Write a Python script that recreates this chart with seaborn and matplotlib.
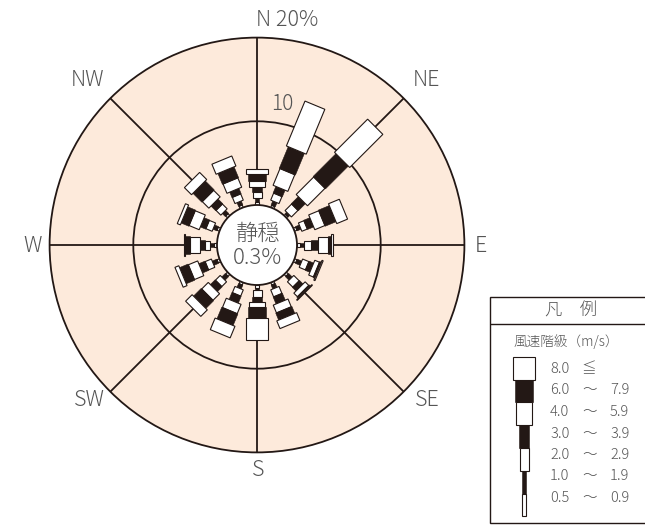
import numpy as np
import matplotlib
matplotlib.use("Agg")
import matplotlib.pyplot as plt
from matplotlib.patches import Circle, Polygon, Rectangle
import seaborn as sns

sns.set_theme(style="white")
plt.rcParams["font.family"] = ["Noto Sans CJK JP", "DejaVu Sans"]
plt.rcParams["font.weight"] = "light"

# ---- data -------------------------------------------------------------
directions = ["N", "NNE", "NE", "ENE", "E", "ESE", "SE", "SSE",
              "S", "SSW", "SW", "WSW", "W", "WNW", "NW", "NNW"]
speed_classes = ["0.5 ～ 0.9", "1.0 ～ 1.9", "2.0 ～ 2.9", "3.0 ～ 3.9",
                 "4.0 ～ 5.9", "6.0 ～ 7.9", "8.0 ≦"]
# frequency (%) per direction, one value per speed class (slow -> fast)
freq_N   = [0.3, 0.5, 0.7, 0.6, 0.8, 0.8, 0.6]
freq_NNE = [0.26, 0.54, 0.9, 0.85, 2.15, 2.8, 5.8]
freq_NE  = [0.2, 0.3, 1.1, 1.2, 2.95, 3.85, 5.6]
freq_ENE = [0.3, 0.5, 0.7, 0.8, 1.3, 1.4, 1.4]
freq_E   = [0.3, 0.5, 0.9, 0.8, 1.2, 0.4, 0.2]
freq_ESE = [0.3, 0.6, 0.8, 0.6, 0.6, 0.2, 0.15]
freq_SE  = [0.3, 0.6, 0.9, 0.6, 0.6, 0.2, 0.1]
freq_SSE = [0.3, 0.5, 0.9, 0.9, 1.0, 0.9, 1.0]
freq_S   = [0.3, 0.3, 0.8, 0.6, 0.6, 1.4, 2.6]
freq_SSW = [0.3, 0.5, 0.8, 0.9, 1.2, 1.5, 1.5]
freq_SW  = [0.3, 0.6, 0.8, 0.8, 1.1, 1.3, 1.1]
freq_WSW = [0.3, 0.6, 0.8, 0.8, 1.2, 1.1, 0.5]
freq_W   = [0.3, 0.5, 0.6, 0.6, 1.2, 0.6, 0.15]
freq_WNW = [0.3, 0.5, 0.8, 0.7, 1.3, 1.0, 0.4]
freq_NW  = [0.3, 0.5, 0.8, 0.8, 1.1, 1.5, 1.2]
freq_NNW = [0.3, 0.5, 0.8, 0.7, 1.2, 1.4, 1.3]
calm_pct = 0.3
ring_levels = [10, 20]
compass_labels = ["N 20%", "NE", "E", "SE", "S", "SW", "W", "NW"]

freq = np.array([freq_N, freq_NNE, freq_NE, freq_ENE, freq_E, freq_ESE,
                 freq_SE, freq_SSE, freq_S, freq_SSW, freq_SW, freq_WSW,
                 freq_W, freq_WNW, freq_NW, freq_NNW])

# ---- styling ----------------------------------------------------------
W_PX, H_PX, DPI = 645, 529, 100
PX_PER_PCT = 8.37          # radial scale
CALM_R = 40 / PX_PER_PCT   # calm circle radius in percent units
CX, CY = 257, 245          # rose centre in pixels
INK = "#231815"
TXT = "#555555"
FILL = "#fdeadb"
# bar width (pixels) of each speed class, slow -> fast
class_width_px = [3.3, 4.6, 9.0, 10.0, 16.0, 17.5, 21.5]
class_black = [False, True, False, True, False, True, False]

fig = plt.figure(figsize=(W_PX / DPI, H_PX / DPI), dpi=DPI)
ax = fig.add_axes([0, 0, 1, 1])
ax.set_xlim(-CX / PX_PER_PCT, (W_PX - CX) / PX_PER_PCT)
ax.set_ylim(-(H_PX - CY) / PX_PER_PCT, CY / PX_PER_PCT)
ax.set_aspect("equal")
ax.axis("off")

r_outer = CALM_R + ring_levels[-1]
ax.add_patch(Circle((0, 0), r_outer, facecolor=FILL, edgecolor=INK,
                    lw=1.3, zorder=1))
ax.add_patch(Circle((0, 0), CALM_R + ring_levels[0], facecolor="none",
                    edgecolor=INK, lw=1.3, zorder=2))
for k in range(8):
    th = np.deg2rad(45 * k)
    ax.plot([0, r_outer * np.sin(th)], [0, r_outer * np.cos(th)],
            color=INK, lw=1.3, zorder=2, solid_capstyle="butt")

# stacked wind bars
for i, d in enumerate(directions):
    th = np.deg2rad(22.5 * i)
    u = np.array([np.sin(th), np.cos(th)])
    p = np.array([np.cos(th), -np.sin(th)])
    edges = CALM_R + np.concatenate([[0], np.cumsum(freq[i])])
    for j in range(len(speed_classes)):
        a, b = edges[j], edges[j + 1]
        hw = class_width_px[j] / PX_PER_PCT / 2
        pts = [a * u - hw * p, b * u - hw * p, b * u + hw * p, a * u + hw * p]
        if class_black[j]:
            poly = Polygon(pts, closed=True, facecolor=INK, edgecolor=INK,
                           lw=0.4, zorder=4)
        else:
            poly = Polygon(pts, closed=True, facecolor="white",
                           edgecolor=INK, lw=0.8, zorder=4)
        ax.add_patch(poly)

# calm circle
ax.add_patch(Circle((0, 0), CALM_R, facecolor="white", edgecolor=INK,
                    lw=1.3, zorder=5))
ax.text(0.15, 1.3, "静穏", ha="center", va="center", fontsize=16,
        color=TXT, zorder=6)
ax.text(0.0, -1.6, f"{calm_pct}%", ha="center", va="center",
        fontsize=16, color=TXT, zorder=6)

# ring value and compass labels
ax.text(3.0, (CY - 104) / PX_PER_PCT, str(ring_levels[0]), ha="center",
        va="center", fontsize=15, color=TXT, zorder=6)
label_pos_px = [(287, 20), (426, 80), (481, 246), (427, 400),
                (258, 470), (89, 400), (33, 246), (88, 80)]
for lab, (lx, ly) in zip(compass_labels, label_pos_px):
    ax.text((lx - CX) / PX_PER_PCT, (CY - ly) / PX_PER_PCT, lab,
            ha="center", va="center", fontsize=15.5, color=TXT)

# ---- legend box -------------------------------------------------------
L0, T0, L1, B1 = 490, 297, 652, 523
lax = fig.add_axes([L0 / W_PX, 1 - B1 / H_PX, (L1 - L0) / W_PX,
                    (B1 - T0) / H_PX])
lax.set_xlim(0, L1 - L0)
lax.set_ylim(B1 - T0, 0)
lax.axis("off")
lax.add_patch(Rectangle((0, 0), L1 - L0, B1 - T0, facecolor="white",
                        edgecolor=INK, lw=1.0, clip_on=False))
lax.plot([0, L1 - L0], [26.5, 26.5], color=INK, lw=1.0)
lax.text(81, 14, "凡　例", ha="center", va="center", fontsize=12.5,
         color=TXT)
lax.text(23, 45, "風速階級（m/s）", ha="left", va="center", fontsize=9.8,
         color=TXT)

seg_h = 22.8
top = 59.7
sx = 34
for k, j in enumerate(range(len(speed_classes) - 1, -1, -1)):
    y0 = top + k * seg_h
    w = class_width_px[j]
    if class_black[j]:
        lax.add_patch(Rectangle((sx - w / 2, y0), w, seg_h, facecolor=INK,
                                edgecolor=INK, lw=0.4))
    else:
        lax.add_patch(Rectangle((sx - w / 2, y0), w, seg_h,
                                facecolor="white", edgecolor=INK, lw=0.8))
    parts = speed_classes[j].split(" ")
    ty = 72 + k * 21.5
    lax.text(60, ty, parts[0], ha="left", va="center", fontsize=10.5,
             color=TXT)
    if len(parts) == 3:
        lax.text(100, ty, parts[1], ha="center", va="center",
                 fontsize=10.5, color=TXT)
        lax.text(120, ty, parts[2], ha="left", va="center", fontsize=10.5,
                 color=TXT)
    else:
        lax.text(99, ty, parts[1], ha="center", va="center", fontsize=10.5,
                 color=TXT)

fig.savefig("out.png", dpi=DPI, facecolor="white")
